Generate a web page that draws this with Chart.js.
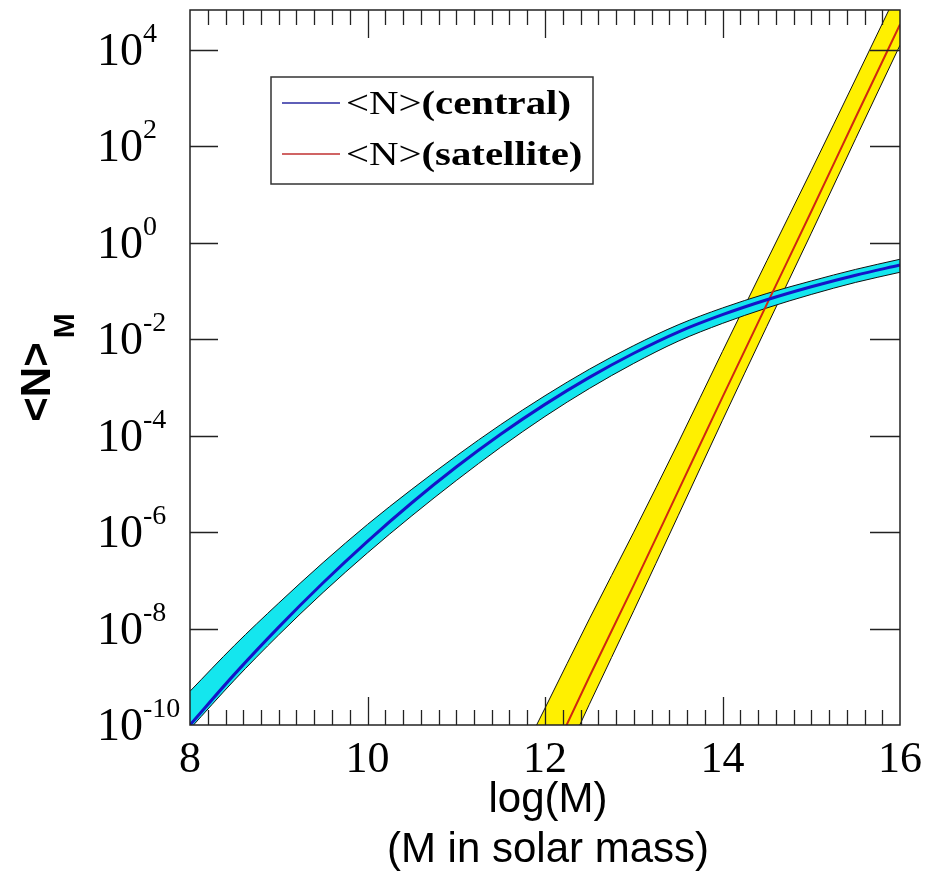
<!DOCTYPE html>
<html>
<head>
<meta charset="utf-8">
<script src="https://cdn.jsdelivr.net/npm/chart.js@4/dist/chart.umd.min.js"></script>
<style>
  html, body { margin: 0; padding: 0; background: #fff; }
  #wrap { width: 941px; height: 879px; position: relative; }
</style>
</head>
<body>
<div id="wrap"><canvas id="hodChart"></canvas></div>
<script>
const $ = (id) => document.getElementById(id);

// log10 values
const centralMass = [8, 8.5, 9, 9.5, 10, 10.5, 11, 11.5, 12, 12.5, 13, 13.5, 14, 14.5, 15, 15.5, 16];
const centralMid = [-10.0, -8.95, -7.97, -7.05, -6.19, -5.39, -4.65, -3.97, -3.35, -2.79, -2.29, -1.85, -1.49, -1.18, -0.91, -0.67, -0.46];
const centralHi = [-9.3, -8.35, -7.47, -6.63, -5.84, -5.11, -4.42, -3.77, -3.17, -2.62, -2.13, -1.7, -1.35, -1.05, -0.79, -0.55, -0.34];
const centralLo = [-10.08, -9.07, -8.13, -7.25, -6.43, -5.66, -4.93, -4.24, -3.6, -3.02, -2.5, -2.04, -1.67, -1.35, -1.07, -0.82, -0.61];

const satMass = [11.5, 12, 12.5, 13, 13.5, 14, 14.5, 15, 15.5, 16];
const satMid = [-12.9, -10.95, -9.0, -7.1, -5.15, -3.2, -1.27, 0.65, 2.6, 4.53];
const satHi = [-11.5, -9.65, -7.8, -6.0, -4.15, -2.25, -0.37, 1.5, 3.4, 5.31];
const satLo = [-13.55, -11.56, -9.57, -7.63, -5.66, -3.68, -1.73, 0.2, 2.16, 4.1];

const xLabels = [8, 10, 12, 14, 16];
const yExponents = [-10, -8, -6, -4, -2, 0, 2, 4];
const legendItems = [
  { name: '(central)', color: '#2a2aa0' },
  { name: '(satellite)', color: '#c03030' },
];

const SERIF = '"Liberation Serif", "Times New Roman", serif';
const SANS = '"Liberation Sans", Arial, sans-serif';

const pts = (xs, logs) => xs.map((x, i) => ({ x, y: Math.pow(10, logs[i]) }));

function curve(label, xs, logs, extra) {
  return {
    label,
    data: pts(xs, logs),
    pointRadius: 0,
    cubicInterpolationMode: 'monotone',
    fill: false,
    ...extra,
  };
}

const datasets = [
  curve('central', centralMass, centralMid, { borderColor: '#1414c8', borderWidth: 3, order: 0 }),
  curve('satellite', satMass, satMid, { borderColor: '#d02810', borderWidth: 2, order: 1 }),
  curve('cLo', centralMass, centralLo, { borderColor: '#111', borderWidth: 1, order: 2 }),
  curve('cHi', centralMass, centralHi, { borderColor: '#111', borderWidth: 1, fill: '-1', backgroundColor: '#14e6ee', order: 3 }),
  curve('sLo', satMass, satLo, { borderColor: '#111', borderWidth: 1, order: 4 }),
  curve('sHi', satMass, satHi, { borderColor: '#111', borderWidth: 1, fill: '-1', backgroundColor: '#fff000', order: 5 }),
];

const frame = {
  id: 'frame',
  afterDraw(chart) {
    const { ctx, chartArea: a, scales: { x, y } } = chart;
    ctx.save();
    ctx.strokeStyle = '#222';
    ctx.lineWidth = 1.5;
    ctx.strokeRect(a.left, a.top, a.right - a.left, a.bottom - a.top);

    // inward ticks on x, every 0.2
    ctx.lineWidth = 1.3;
    ctx.beginPath();
    for (let k = 1; k < 40; k++) {
      const v = 8 + k * 0.2;
      const px = Math.round(x.getPixelForValue(v)) + 0.5;
      const len = k % 10 === 0 ? 28 : 15;
      ctx.moveTo(px, a.bottom); ctx.lineTo(px, a.bottom - len);
      ctx.moveTo(px, a.top); ctx.lineTo(px, a.top + len);
    }
    yExponents.forEach((e) => {
      if (e === -10) return;
      const py = Math.round(y.getPixelForValue(Math.pow(10, e))) + 0.5;
      ctx.moveTo(a.left, py); ctx.lineTo(a.left + 28, py);
      ctx.moveTo(a.right, py); ctx.lineTo(a.right - 30, py);
    });
    ctx.stroke();

    ctx.fillStyle = '#000';
    ctx.font = `44px ${SERIF}`;
    ctx.textAlign = 'center';
    ctx.textBaseline = 'alphabetic';
    xLabels.forEach((v) => ctx.fillText(String(v), x.getPixelForValue(v), a.bottom + 47));

    ctx.textAlign = 'left';
    yExponents.forEach((e) => {
      const py = y.getPixelForValue(Math.pow(10, e));
      ctx.font = `46px ${SERIF}`;
      ctx.fillText('10', 97, py + 15);
      const w = ctx.measureText('10').width;
      ctx.font = `28px ${SERIF}`;
      ctx.fillText(String(e), 97 + w, py - 8);
    });

    // axis titles
    ctx.font = `42px ${SANS}`;
    ctx.textAlign = 'center';
    ctx.fillText('log(M)', 548, 812);
    ctx.fillText('(M in solar mass)', 548, 862);

    ctx.save();
    ctx.translate(50, 382);
    ctx.rotate(-Math.PI / 2);
    ctx.font = `bold 42px ${SANS}`;
    ctx.fillText('<N>', 0, 0);
    const tw = ctx.measureText('<N>').width;
    ctx.font = `bold 30px ${SANS}`;
    ctx.textAlign = 'left';
    ctx.fillText('M', tw / 2 + 4, 24);
    ctx.restore();

    // legend box
    ctx.lineWidth = 1.5;
    ctx.strokeStyle = '#333';
    ctx.fillStyle = '#fff';
    ctx.fillRect(271, 77, 322, 107);
    ctx.strokeRect(271, 77, 322, 107);
    legendItems.forEach((item, i) => {
      const ly = 103 + i * 51;
      ctx.strokeStyle = item.color;
      ctx.lineWidth = 1.5;
      ctx.beginPath();
      ctx.moveTo(282, ly); ctx.lineTo(340, ly);
      ctx.stroke();
      ctx.save();
      ctx.translate(346, ly + 11);
      ctx.scale(1.2, 1);
      ctx.fillStyle = '#000';
      ctx.textAlign = 'left';
      ctx.font = `34px ${SERIF}`;
      ctx.fillText('<N>', 0, 0);
      const nw = ctx.measureText('<N>').width;
      ctx.font = `bold 34px ${SERIF}`;
      ctx.fillText(item.name, nw, 0);
      ctx.restore();
    });
    ctx.restore();
  },
};

new Chart($('hodChart'), {
  type: 'line',
  data: { datasets },
  options: {
    responsive: true,
    maintainAspectRatio: false,
    animation: false,
    layout: { padding: { top: 10, right: 41, left: 0, bottom: 0 } },
    plugins: { legend: { display: false }, tooltip: { enabled: false } },
    scales: {
      x: {
        type: 'linear', min: 8, max: 16,
        grid: { display: false }, border: { display: false },
        ticks: { display: false },
        afterFit: (s) => { s.height = 154; },
      },
      y: {
        type: 'logarithmic', min: 1e-10, max: Math.pow(10, 4.83),
        grid: { display: false }, border: { display: false },
        ticks: { display: false },
        afterFit: (s) => { s.width = 190; },
      },
    },
  },
  plugins: [frame],
});
</script>
</body>
</html>
